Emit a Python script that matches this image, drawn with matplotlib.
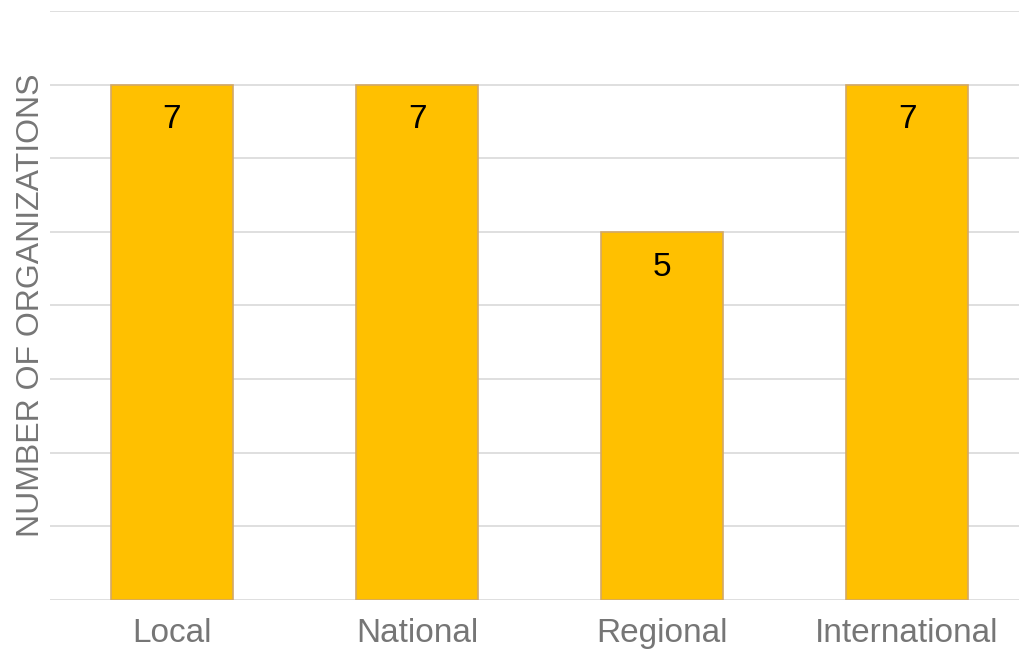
import matplotlib.pyplot as plt

plt.rcParams['font.family'] = ['Liberation Sans', 'DejaVu Sans']

categories = ['Local', 'National', 'Regional', 'International']
counts = [7, 7, 5, 7]

fig = plt.figure(figsize=(10.2, 6.54), dpi=100)
ax = fig.add_axes([0.049, 0.0826, 0.951, 0.9006])

x = range(len(categories))
bars = ax.bar(x, counts, width=0.5, color='#FFC000', edgecolor='#D2A868', linewidth=1.2, zorder=3)

for b, v in zip(bars, counts):
    ax.text(b.get_x() + b.get_width() / 2, v - 0.48, str(v), ha='center', va='center',
            fontsize=24, color='black', zorder=4)

ax.set_xlim(-0.498, 3.461)
ax.set_ylim(0, 8)
ax.set_yticks(range(0, 9))
ax.set_yticklabels([])
ax.tick_params(axis='y', length=0)
ax.set_xticks(list(x))
ax.set_xticklabels(categories, fontsize=24, color='#767676')
ax.tick_params(axis='x', length=0, pad=13)
ax.grid(axis='y', color='#D9D9D9', linewidth=1.2, zorder=0)
for s in ax.spines.values():
    s.set_visible(False)

ax.set_ylabel('NUMBER OF ORGANIZATIONS', fontsize=23, color='#767676')
ax.yaxis.set_label_coords(-0.004, 0.5)

fig.savefig('out.png', dpi=100)
